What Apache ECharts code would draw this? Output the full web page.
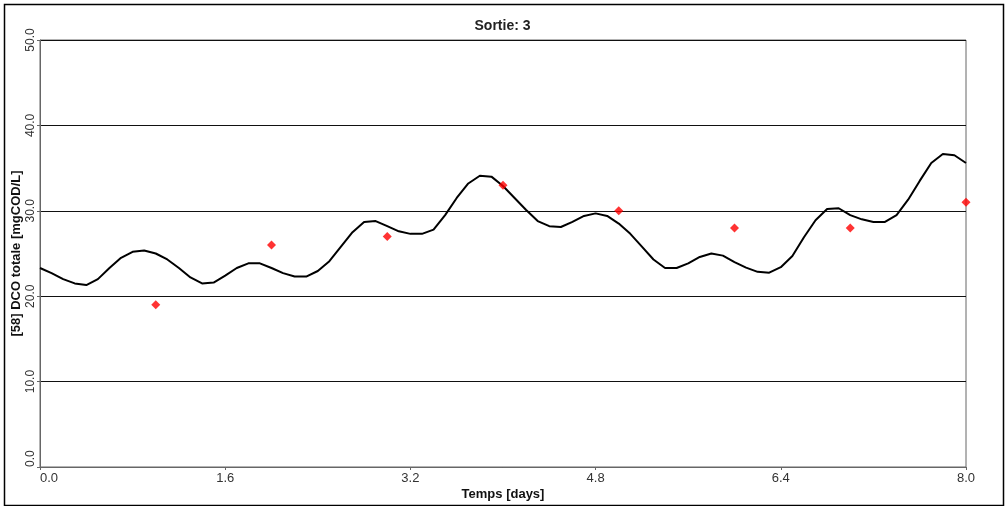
<!DOCTYPE html>
<html>
<head>
<meta charset="utf-8">
<title>Sortie: 3</title>
<script src="https://cdn.jsdelivr.net/npm/echarts@6/dist/echarts.min.js"></script>
<style>
  html, body { margin: 0; padding: 0; background: #fff; }
  #chart { width: 1005px; height: 506px; }
</style>
</head>
<body>
<div id="chart"></div>
<script>
// Simulated total COD at the outlet, sampled every 0.1 day
const simTimes = [
  0.0, 0.1, 0.2, 0.3, 0.4, 0.5, 0.6, 0.7, 0.8, 0.9,
  1.0, 1.1, 1.2, 1.3, 1.4, 1.5, 1.6, 1.7, 1.8, 1.9,
  2.0, 2.1, 2.2, 2.3, 2.4, 2.5, 2.6, 2.7, 2.8, 2.9,
  3.0, 3.1, 3.2, 3.3, 3.4, 3.5, 3.6, 3.7, 3.8, 3.9,
  4.0, 4.1, 4.2, 4.3, 4.4, 4.5, 4.6, 4.7, 4.8, 4.9,
  5.0, 5.1, 5.2, 5.3, 5.4, 5.5, 5.6, 5.7, 5.8, 5.9,
  6.0, 6.1, 6.2, 6.3, 6.4, 6.5, 6.6, 6.7, 6.8, 6.9,
  7.0, 7.1, 7.2, 7.3, 7.4, 7.5, 7.6, 7.7, 7.8, 7.9,
  8.0
];
const simValues = [
  23.3, 22.7, 22.0, 21.5, 21.3, 22.0, 23.3, 24.5, 25.2, 25.35,
  25.0, 24.3, 23.3, 22.2, 21.5, 21.6, 22.4, 23.3, 23.85, 23.85,
  23.3, 22.7, 22.3, 22.3, 22.95, 24.1, 25.8, 27.5, 28.7, 28.8,
  28.2, 27.6, 27.3, 27.3, 27.8, 29.5, 31.5, 33.2, 34.1, 34.0,
  32.9, 31.5, 30.1, 28.8, 28.2, 28.1, 28.7, 29.4, 29.7, 29.4,
  28.5, 27.3, 25.8, 24.3, 23.3, 23.3, 23.85, 24.6, 25.0, 24.75,
  24.0, 23.35, 22.85, 22.75, 23.4, 24.7, 26.9, 28.9, 30.2, 30.3,
  29.5, 29.0, 28.7, 28.7, 29.5, 31.3, 33.5, 35.6, 36.65, 36.5,
  35.6
];

// Measured total COD (daily samples)
const obsTimes = [1, 2, 3, 4, 5, 6, 7, 8];
const obsValues = [19.0, 26.0, 27.0, 33.0, 30.0, 28.0, 28.0, 31.0];

// Axis settings
const xMin = 0, xMax = 8, xStep = 1.6;
const yMin = 0, yMax = 50, yStep = 10;

const chartTitle = 'Sortie: 3';
const xName = 'Temps [days]';
const yName = '[58] DCO totale [mgCOD/L]';

const simData = simTimes.map((t, i) => [t, simValues[i]]);
const obsData = obsTimes.map((t, i) => [t, obsValues[i]]);

const chart = echarts.init(document.getElementById('chart'), null, { renderer: 'canvas' });

const labelFont = 'Liberation Sans, Arial, sans-serif';

chart.setOption({
  animation: false,
  backgroundColor: '#ffffff',
  title: {
    text: chartTitle,
    left: 'center',
    top: 14,
    textStyle: { fontFamily: labelFont, fontSize: 14, fontWeight: 'bold', color: '#222' }
  },
  grid: {
    left: 40, right: 39, top: 40, bottom: 39,
    containLabel: false,
    outerBoundsMode: 'none',
    show: true,
    borderColor: '#666',
    borderWidth: 1,
    backgroundColor: '#ffffff'
  },
  xAxis: {
    type: 'value',
    min: xMin, max: xMax, interval: xStep,
    name: xName,
    nameLocation: 'middle',
    nameGap: 21,
    nameMoveOverlap: false,
    nameTextStyle: { fontFamily: labelFont, fontSize: 13, fontWeight: 'bold', color: '#111' },
    axisLine: { show: true, lineStyle: { color: '#666', width: 1 } },
    axisTick: { show: true, length: 3, lineStyle: { color: '#666' } },
    axisLabel: {
      margin: 5,
      alignMinLabel: 'left',
      fontFamily: labelFont, fontSize: 13, color: '#333',
      formatter: v => v.toFixed(1)
    },
    splitLine: { show: false }
  },
  yAxis: {
    type: 'value',
    min: yMin, max: yMax, interval: yStep,
    name: yName,
    nameLocation: 'middle',
    nameGap: 17,
    nameMoveOverlap: false,
    nameTextStyle: { fontFamily: labelFont, fontSize: 13, fontWeight: 'bold', color: '#111' },
    axisLine: { show: true, lineStyle: { color: '#666', width: 1 } },
    axisTick: { show: true, length: 3, lineStyle: { color: '#666' } },
    axisLabel: {
      rotate: 90,
      margin: 3,
      alignMinLabel: 'left',
      fontFamily: labelFont, fontSize: 12, color: '#333',
      formatter: v => v.toFixed(1)
    },
    splitLine: { show: true, lineStyle: { color: '#111', width: 1 } }
  },
  series: [
    {
      name: 'Simulation',
      type: 'line',
      data: simData,
      showSymbol: false,
      smooth: false,
      lineStyle: { color: '#000', width: 2 },
      z: 3
    },
    {
      name: 'Mesures',
      type: 'scatter',
      data: obsData,
      symbol: 'diamond',
      symbolSize: 9,
      itemStyle: { color: '#ff0000' },
      z: 4
    }
  ],
  graphic: [
    {
      type: 'rect',
      left: 2, top: 2,
      shape: { width: 999, height: 501 },
      style: { fill: 'none', stroke: '#000', lineWidth: 1.5 },
      silent: true,
      z: -1
    }
  ]
});
</script>
</body>
</html>
